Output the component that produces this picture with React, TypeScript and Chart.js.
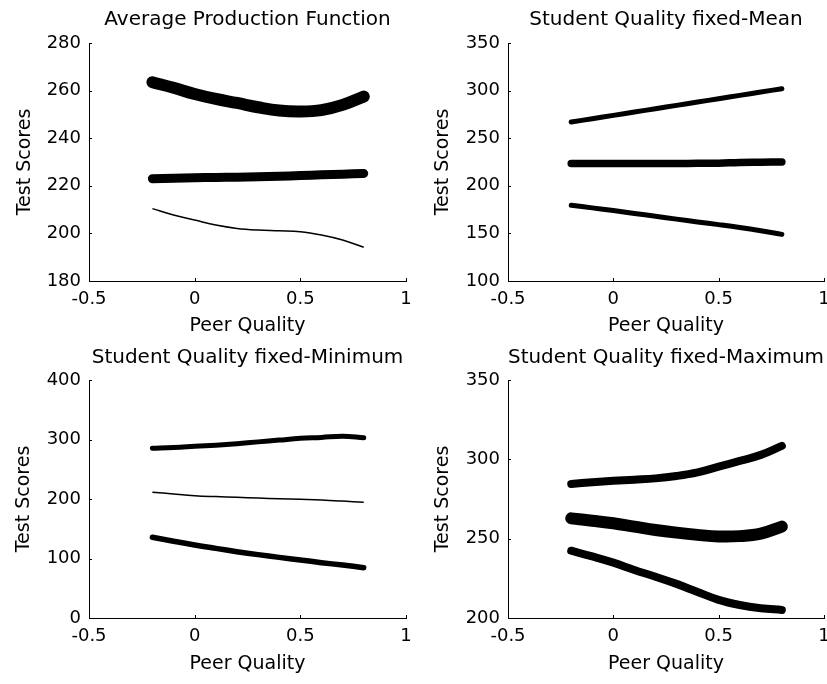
import React, { useEffect, useRef } from 'react';
import { Chart, registerables } from 'chart.js';
Chart.register(...registerables);

// ---- data ----
const peerQuality = [-0.2, -0.1, 0, 0.1, 0.2, 0.3, 0.4, 0.5, 0.6, 0.7, 0.8];
const xTickValues = [-0.5, 0, 0.5, 1];

const avgHigh = [263.5, 261.2, 258.6, 256.5, 254.8, 253, 251.6, 251.2, 251.8, 254, 257.5];
const avgMid = [223, 223.2, 223.4, 223.5, 223.6, 223.8, 224, 224.3, 224.6, 224.9, 225.2];
const avgLow = [210.4, 207.7, 205.6, 203.5, 202.1, 201.4, 201.1, 200.7, 199.3, 197.2, 194.2];

const meanHigh = [267, 270.5, 274, 277.5, 281, 284.5, 288, 291.5, 295, 298.5, 302];
const meanMid = [223.5, 223.5, 223.5, 223.5, 223.5, 223.5, 223.6, 223.8, 224.6, 224.8, 225];
const meanLow = [179.5, 176.8, 174, 171, 168, 165, 162, 159.2, 156.2, 152.8, 149];

const minHigh = [285.2, 286.5, 288.5, 290.5, 293, 296, 299, 302, 303.5, 305.5, 303];
const minMid = [211.5, 208.4, 205.6, 204, 202.8, 201.5, 200.6, 199.5, 198.3, 196.5, 194.4];
const minLow = [135.6, 129, 122.7, 117, 111.5, 106.5, 101.9, 97.5, 93, 89, 84.6];

const maxHigh = [284.5, 285.6, 286.5, 287.2, 288, 289.5, 291.8, 295.4, 299, 302.8, 308.5];
const maxMid = [262.8, 261.3, 259.7, 257.6, 255.5, 253.8, 252.4, 251.4, 251.6, 253.2, 257.6];
const maxLow = [242.4, 238.8, 234.9, 230.3, 226, 221.5, 216.4, 211.4, 208.2, 206.2, 205.1];

const titles = [
  'Average Production Function',
  'Student Quality fixed-Mean',
  'Student Quality fixed-Minimum',
  'Student Quality fixed-Maximum',
];
const xLabel = 'Peer Quality';
const yLabel = 'Test Scores';

// ---- panel layout / styles ----
type SeriesSpec = { values: number[]; width: number; cap: CanvasLineCap };
type PanelSpec = {
  title: string;
  left: number; top: number; w: number; h: number;
  yMin: number; yMax: number; yStep: number;
  series: SeriesSpec[];
  yWidth: number; yTitlePad: number;
  titleTop: number; titleBottom: number;
  xHeight: number; xTitlePad: number;
  padRight: number;
};

const TITLE_SIZE = 20;
const TICK_SIZE = 18;
const LABEL_SIZE = 19;
const TH = TITLE_SIZE * 1.2;

const panels: PanelSpec[] = [
  {
    title: titles[0], left: 0, top: 0, w: 430, h: 342,
    yMin: 180, yMax: 280, yStep: 20,
    series: [
      { values: avgHigh, width: 12, cap: 'round' },
      { values: avgMid, width: 9, cap: 'round' },
      { values: avgLow, width: 1.5, cap: 'butt' },
    ],
    yWidth: 89, yTitlePad: 13.6, titleTop: 20 - TH / 2, titleBottom: 43 - 20 - TH / 2,
    xHeight: 61, xTitlePad: 4.6, padRight: 24,
  },
  {
    title: titles[1], left: 413, top: 0, w: 430, h: 342,
    yMin: 100, yMax: 350, yStep: 50,
    series: [
      { values: meanHigh, width: 5, cap: 'round' },
      { values: meanMid, width: 7.5, cap: 'round' },
      { values: meanLow, width: 5, cap: 'round' },
    ],
    yWidth: 95, yTitlePad: 18.6, titleTop: 20 - TH / 2, titleBottom: 43 - 20 - TH / 2,
    xHeight: 61, xTitlePad: 4.6, padRight: 19,
  },
  {
    title: titles[2], left: 0, top: 342, w: 430, h: 342,
    yMin: 0, yMax: 400, yStep: 100,
    series: [
      { values: minHigh, width: 5, cap: 'round' },
      { values: minMid, width: 1.5, cap: 'butt' },
      { values: minLow, width: 5.5, cap: 'round' },
    ],
    yWidth: 89, yTitlePad: 12.6, titleTop: 15.7 - TH / 2, titleBottom: 38 - 15.7 - TH / 2,
    xHeight: 66, xTitlePad: 8.6, padRight: 24,
  },
  {
    title: titles[3], left: 413, top: 342, w: 430, h: 342,
    yMin: 200, yMax: 350, yStep: 50,
    series: [
      { values: maxHigh, width: 8, cap: 'round' },
      { values: maxMid, width: 12, cap: 'round' },
      { values: maxLow, width: 8, cap: 'round' },
    ],
    yWidth: 95, yTitlePad: 18.6, titleTop: 15.7 - TH / 2, titleBottom: 38 - 15.7 - TH / 2,
    xHeight: 66, xTitlePad: 8.6, padRight: 19,
  },
];

const FONT = 'DejaVu Sans';
const TICK_LEN = 3;

const inwardTicks = {
  id: 'inwardTicks',
  afterDraw(chart: any) {
    const { ctx, chartArea } = chart;
    const xs = chart.scales.x;
    const ys = chart.scales.y;
    ctx.save();
    ctx.strokeStyle = '#000';
    ctx.lineWidth = 1;
    xs.ticks.forEach((t: any) => {
      const px = Math.round(xs.getPixelForValue(t.value)) + 0.5;
      ctx.beginPath();
      ctx.moveTo(px, chartArea.bottom);
      ctx.lineTo(px, chartArea.bottom - TICK_LEN);
      ctx.stroke();
    });
    ys.ticks.forEach((t: any) => {
      const py = Math.round(ys.getPixelForValue(t.value)) + 0.5;
      ctx.beginPath();
      ctx.moveTo(chartArea.left, py);
      ctx.lineTo(chartArea.left + TICK_LEN, py);
      ctx.stroke();
    });
    ctx.restore();
  },
};

function Panel({ spec }: { spec: PanelSpec }) {
  const ref = useRef<HTMLCanvasElement>(null);
  useEffect(() => {
    if (!ref.current) return;
    const chart = new Chart(ref.current, {
      type: 'line',
      data: {
        datasets: spec.series.map((s) => ({
          data: peerQuality.map((x, i) => ({ x, y: s.values[i] })),
          borderColor: '#000',
          backgroundColor: '#000',
          borderWidth: s.width,
          borderCapStyle: s.cap,
          borderJoinStyle: 'round',
          pointRadius: 0,
          tension: 0.4,
          fill: false,
        })),
      },
      options: {
        responsive: false,
        animation: false,
        events: [],
        layout: { padding: { left: 0, top: 0, bottom: 0, right: spec.padRight } },
        plugins: {
          legend: { display: false },
          tooltip: { enabled: false },
          title: {
            display: true,
            text: spec.title,
            fullSize: false,
            color: '#000',
            font: { family: FONT, size: TITLE_SIZE, weight: 'normal' },
            padding: { top: spec.titleTop, bottom: spec.titleBottom },
          },
        },
        scales: {
          x: {
            type: 'linear',
            min: -0.5,
            max: 1,
            afterBuildTicks: (scale: any) => {
              scale.ticks = xTickValues.map((v) => ({ value: v }));
            },
            afterFit: (scale: any) => {
              scale.height = spec.xHeight;
            },
            grid: { display: false, drawTicks: false },
            border: { display: true, color: '#000', width: 1 },
            ticks: {
              color: '#000',
              padding: 8,
              font: { family: FONT, size: TICK_SIZE },
              maxRotation: 0,
              autoSkip: false,
              callback: (v: any) => String(v),
            },
            title: {
              display: true,
              text: xLabel,
              color: '#000',
              font: { family: FONT, size: LABEL_SIZE },
              padding: { top: 0, bottom: spec.xTitlePad },
            },
          },
          y: {
            type: 'linear',
            min: spec.yMin,
            max: spec.yMax,
            afterFit: (scale: any) => {
              scale.width = spec.yWidth;
            },
            grid: { display: false, drawTicks: false },
            border: { display: true, color: '#000', width: 1 },
            ticks: {
              color: '#000',
              padding: 8,
              stepSize: spec.yStep,
              font: { family: FONT, size: TICK_SIZE },
              callback: (v: any) => String(v),
            },
            title: {
              display: true,
              text: yLabel,
              color: '#000',
              font: { family: FONT, size: LABEL_SIZE },
              padding: { top: spec.yTitlePad, bottom: 0 },
            },
          },
        },
      },
      plugins: [inwardTicks],
    } as any);
    return () => chart.destroy();
  }, [spec]);
  return (
    <canvas
      ref={ref}
      width={spec.w}
      height={spec.h}
      style={{ position: 'absolute', left: spec.left, top: spec.top, width: spec.w, height: spec.h }}
    />
  );
}

export default function App() {
  return (
    <div
      style={{
        position: 'fixed',
        left: 0,
        top: 0,
        width: 827,
        height: 684,
        overflow: 'hidden',
        background: '#fff',
      }}
    >
      {panels.map((p, i) => (
        <Panel key={i} spec={p} />
      ))}
    </div>
  );
}
